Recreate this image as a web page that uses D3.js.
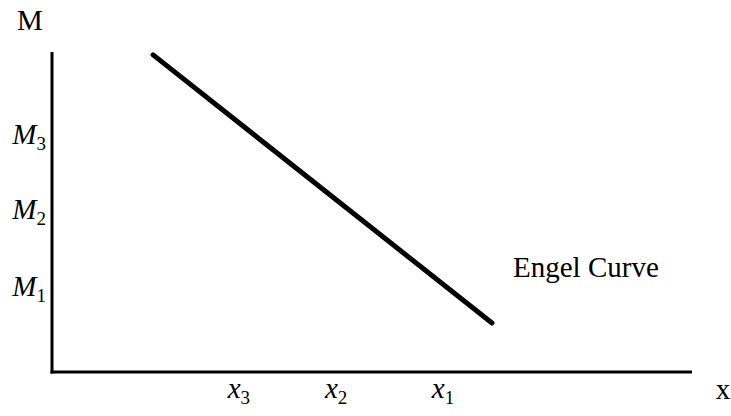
<!DOCTYPE html>
<html>
<head>
<meta charset="utf-8">
<script src="https://cdn.jsdelivr.net/npm/d3@7"></script>
<style>
  html body svg#chart text,
  html body svg#chart tspan {
    font-family: "Liberation Serif", "Times New Roman", Tinos, serif !important;
  }
</style>
</head>
<body style="margin:0;background:#fff">
<svg id="chart" width="731" height="416"></svg>
<script>
// Income levels on the vertical axis and quantities on the horizontal axis
const incomeLabels = ["M1", "M2", "M3"];
const incomeValues = [27, 51, 74.5];
const quantityLabels = ["x3", "x2", "x1"];
const quantityValues = [29.2, 44.4, 61.1];

// Engel curve end points (quantity, income)
const curveX = [15.8, 68.75];
const curveY = [99.1, 15.3];

const SIZE = 29;
const FONT = '"Liberation Serif", "Times New Roman", Tinos, serif';

const svg = d3.select("#chart").attr("font-family", FONT);
const x = d3.scaleLinear().domain([0, 100]).range([52, 692]);
const y = d3.scaleLinear().domain([0, 100]).range([372, 52]);

// Axes
svg.append("line")
  .attr("x1", x(0)).attr("x2", x(0))
  .attr("y1", y(0) + 1.5).attr("y2", y(100))
  .attr("stroke", "#000").attr("stroke-width", 3);
svg.append("line")
  .attr("x1", x(0) - 1.5).attr("x2", x(100))
  .attr("y1", y(0)).attr("y2", y(0))
  .attr("stroke", "#000").attr("stroke-width", 3);

// Engel curve
const pts = curveX.map((d, i) => [x(d), y(curveY[i])]);
svg.append("path")
  .attr("d", d3.line()(pts))
  .attr("fill", "none")
  .attr("stroke", "#000")
  .attr("stroke-width", 5)
  .attr("stroke-linecap", "round");

// Italic letter followed by an upright subscript digit
function subLabel(sel, base, sub) {
  sel.append("tspan").attr("font-style", "italic").text(base);
  sel.append("tspan")
    .attr("font-size", Math.round(SIZE * 0.66)).attr("dy", 6).text(sub);
}

function addText(px, py, anchor) {
  return svg.append("text")
    .attr("x", px).attr("y", py)
    .attr("text-anchor", anchor)
    .attr("font-family", FONT)
    .attr("font-size", SIZE);
}

// Income tick labels
incomeLabels.forEach((lab, i) => {
  subLabel(addText(46, y(incomeValues[i]) + 10, "end"), lab[0], lab.slice(1));
});

// Quantity tick labels
quantityLabels.forEach((lab, i) => {
  subLabel(addText(x(quantityValues[i]), 398, "middle"), lab[0], lab.slice(1));
});

// Axis titles
addText(30, 30, "middle").text("M");
addText(723, 399, "middle").text("x");

// Curve label
addText(513, 277, "start").text("Engel Curve");
</script>
</body>
</html>
